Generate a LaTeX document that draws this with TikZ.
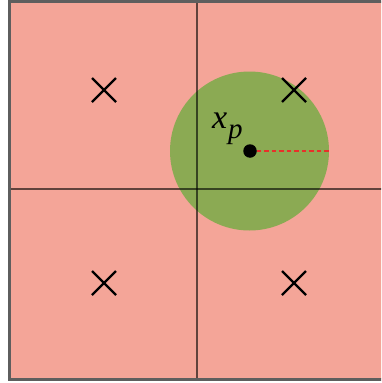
\documentclass[tikz,border=0pt]{standalone}
\usepackage{fontspec}
\usepackage{tikz}
\newfontfamily\tmsfont{Liberation Serif}
\definecolor{cellpink}{HTML}{F4A598}
\definecolor{discgreen}{HTML}{8BAA53}
\definecolor{framegray}{HTML}{5E5E5E}
\definecolor{dashred}{HTML}{E8302A}
\tikzset{
  cross/.style={line width=2.2pt, black},
  gridline/.style={line width=2.6pt, black, opacity=0.6},
  frame/.style={line width=3pt, framegray},
  lbltext/.style={inner sep=0pt, anchor=base west, font=\tmsfont\itshape\fontsize{#1}{#1}\selectfont},
}
\begin{document}
\begin{tikzpicture}[x=1pt,y=-1pt]
\useasboundingbox (0,0) rectangle (381,383);
\begin{scope}
\clip (0,0) rectangle (381,383);
\fill[cellpink] (9,1) rectangle (386,379);
\fill[discgreen] (249.5,151) circle (79.5);
\draw[gridline] (197,1) -- (197,379);
\draw[gridline] (9,189) -- (386,189);
\draw[frame] (9,1) rectangle (386,379);
\end{scope}
\foreach \cx/\cy/\nm in {104/90/a, 294/90/b, 104/283/c, 294/283/d}{
  \coordinate (\nm) at (\cx,\cy);
  \draw[cross] ([shift={(-12,-12)}]\nm) -- ([shift={(12,12)}]\nm);
  \draw[cross] ([shift={(-12,12)}]\nm) -- ([shift={(12,-12)}]\nm);
}
\node[circle, fill=black, inner sep=0pt, minimum size=13.5pt] (p) at (250,151) {};
\coordinate (rim) at (329,151);
\draw[dashred, line width=1.8pt, dash pattern=on 4.5pt off 3pt] (p.east) -- (rim);
\node[lbltext=34] (lblx) at (212,128) {x};
\node[lbltext=29] (lblp) at (228,138) {p};
\end{tikzpicture}
\end{document}
